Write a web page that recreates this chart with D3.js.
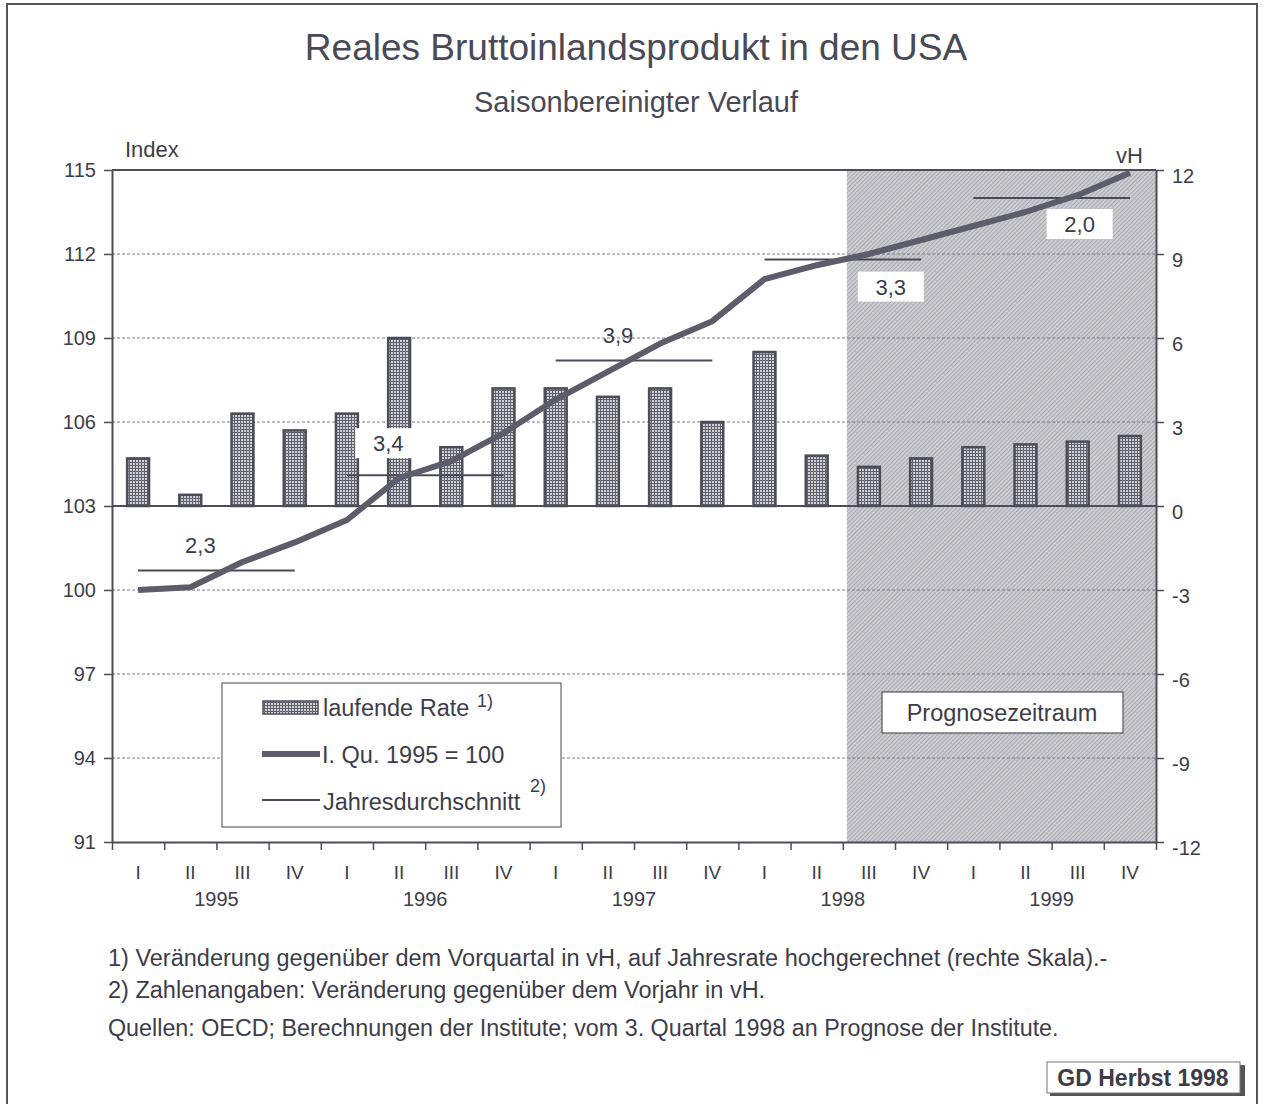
<!DOCTYPE html>
<html>
<head>
<meta charset="utf-8">
<script src="https://cdn.jsdelivr.net/npm/d3@7"></script>
<style>
    body { margin: 0; background: #fff; }
    svg { display: block; font-family: "Liberation Sans", Arial, sans-serif; }
    text { fill: #3d3d4a; }
</style>
</head>
<body>
<svg id="chart" width="1265" height="1104"></svg>
<script>
// Quartale 1995 I bis 1999 IV
const years = [1995, 1996, 1997, 1998, 1999];
const quarterNames = ["I", "II", "III", "IV"];
const quarters = years.flatMap(y => quarterNames.map(q => q + " " + y));

// laufende Rate, vH (rechte Skala)
const rate = [1.7, 0.4, 3.3, 2.7, 3.3, 6.0, 2.1, 4.2,
              4.2, 3.9, 4.2, 3.0, 5.5, 1.8, 1.4, 1.7,
              2.1, 2.2, 2.3, 2.5];

// I. Qu. 1995 = 100 (linke Skala)
const level = [100.0, 100.1, 101.0, 101.7, 102.5, 104.0, 104.6, 105.6,
               106.8, 107.8, 108.8, 109.6, 111.1, 111.6, 112.0, 112.5,
               113.0, 113.5, 114.1, 114.9];

// Jahresdurchschnitt (Niveau) und Veraenderung gegenueber Vorjahr
const annualLevel = [100.7, 104.1, 108.2, 111.8, 114.0];
const annualChange = ["2,3", "3,4", "3,9", "3,3", "2,0"];

const leftTicks = [91, 94, 97, 100, 103, 106, 109, 112, 115];
const rightTicks = [-12, -9, -6, -3, 0, 3, 6, 9, 12];
const forecastStart = 14; // ab 3. Quartal 1998

const footnotes = [
    "1) Veränderung gegenüber dem Vorquartal in vH, auf Jahresrate hochgerechnet (rechte Skala).-",
    "2) Zahlenangaben: Veränderung gegenüber dem Vorjahr in vH."
];
const source = "Quellen: OECD; Berechnungen der Institute; vom 3. Quartal 1998 an Prognose der Institute.";

// label placement relative to year centre / average line: [dx, dy, white box]
const labelLayout = [[-16, -25, false], [-37, -32, true], [-16, -25, false], [48, 27, true], [28, 26, true]];

const ink = "#4d4d58";
const plot = {left: 112, right: 1156, top: 170, bottom: 842};

const svg = d3.select("#chart");
const defs = svg.append("defs");

let mesh = defs.append("pattern")
    .attr("id", "mesh")
    .attr("width", 3).attr("height", 3)
    .attr("patternUnits", "userSpaceOnUse");
mesh.append("rect").attr("width", 3).attr("height", 3).attr("fill", "#cfcfd4");
mesh.append("path").attr("d", "M0,0.5H3M0.5,0V3").attr("stroke", "#62626e").attr("stroke-width", 1);

let hatch = defs.append("pattern")
    .attr("id", "hatch")
    .attr("width", 3).attr("height", 3)
    .attr("patternUnits", "userSpaceOnUse")
    .attr("patternTransform", "rotate(45)");
hatch.append("rect").attr("width", 3).attr("height", 3).attr("fill", "#cdcdd1");
hatch.append("line").attr("x1", 0).attr("y1", 0).attr("x2", 0).attr("y2", 3)
    .attr("stroke", "#8e8e96").attr("stroke-width", 1.1);

// outer frame
svg.append("rect")
    .attr("x", 7).attr("y", 4).attr("width", 1250).attr("height", 1120)
    .attr("fill", "none").attr("stroke", "#555").attr("stroke-width", 2);

// titles
svg.append("text")
    .attr("x", 636).attr("y", 60)
    .attr("text-anchor", "middle")
    .style("font-size", "37px")
    .style("fill", "#4a4a56")
    .text("Reales Bruttoinlandsprodukt in den USA");
svg.append("text")
    .attr("x", 636).attr("y", 112)
    .attr("text-anchor", "middle")
    .style("font-size", "29px")
    .style("fill", "#4a4a56")
    .text("Saisonbereinigter Verlauf");

// scales
let x = d3.scaleBand().domain(quarters).range([plot.left, plot.right]).padding(0);
let xEdge = d3.scaleLinear().domain([0, quarters.length]).range([plot.left, plot.right]);
let yLeft = d3.scaleLinear().domain([91, 115]).range([plot.bottom, plot.top]);
let yRight = d3.scaleLinear().domain([-12, 12]).range([plot.bottom, plot.top]);
let cx = i => x(quarters[i]) + x.bandwidth() / 2;

// forecast area
svg.append("rect")
    .attr("x", xEdge(forecastStart) + 4)
    .attr("y", plot.top)
    .attr("width", xEdge(quarters.length) - xEdge(forecastStart) - 4)
    .attr("height", plot.bottom - plot.top)
    .attr("fill", "url(#hatch)");

// grid lines
svg.append("g").selectAll("line")
    .data(leftTicks.filter(d => d > 91 && d < 115 && d !== 103))
    .enter().append("line")
    .attr("x1", plot.left).attr("x2", plot.right)
    .attr("y1", d => yLeft(d)).attr("y2", d => yLeft(d))
    .attr("stroke", "#7a7a84").attr("stroke-width", 1)
    .attr("stroke-dasharray", "3,2");

// axes
let leftAxis = svg.append("g")
    .attr("transform", "translate(" + plot.left + ",0)")
    .call(d3.axisLeft(yLeft).tickValues(leftTicks).tickSize(8).tickSizeOuter(0).tickPadding(8));
let rightAxis = svg.append("g")
    .attr("transform", "translate(" + plot.right + ",0)")
    .call(d3.axisRight(yRight).tickValues(rightTicks).tickFormat(d => String(d))
        .tickSize(8).tickSizeOuter(0).tickPadding(8));
let bottomAxis = svg.append("g")
    .attr("transform", "translate(0," + plot.bottom + ")")
    .call(d3.axisBottom(xEdge).tickValues(d3.range(quarters.length + 1)).tickFormat("").tickSize(8).tickSizeOuter(0));

[leftAxis, rightAxis, bottomAxis].forEach(g => {
    g.selectAll("path.domain").attr("stroke", ink).attr("stroke-width", 2);
    g.selectAll(".tick line").attr("stroke", ink).attr("stroke-width", 1.5);
    g.selectAll(".tick text")
        .style("font-size", "20px")
        .style("font-family", "'Liberation Sans', Arial, sans-serif")
        .attr("fill", "#3d3d4a");
});
rightAxis.selectAll(".tick text").attr("dy", "0.6em");

svg.append("line")
    .attr("x1", plot.left).attr("x2", plot.right)
    .attr("y1", plot.top).attr("y2", plot.top)
    .attr("stroke", ink).attr("stroke-width", 2);

// quarter and year labels
svg.append("g").selectAll("text")
    .data(quarters)
    .enter().append("text")
    .attr("x", (d, i) => cx(i))
    .attr("y", 879)
    .attr("text-anchor", "middle")
    .style("font-size", "19px")
    .text(d => d.split(" ")[0]);
svg.append("g").selectAll("text")
    .data(years)
    .enter().append("text")
    .attr("x", (d, i) => xEdge(i * 4 + 2))
    .attr("y", 906)
    .attr("text-anchor", "middle")
    .style("font-size", "20px")
    .text(d => d);

svg.append("text").attr("x", 125).attr("y", 157).style("font-size", "22px").text("Index");
svg.append("text").attr("x", 1116).attr("y", 163).style("font-size", "22px").text("vH");

// bars: laufende Rate
let barW = x.bandwidth() * 0.42;
svg.append("g").selectAll("rect")
    .data(rate)
    .enter().append("rect")
    .attr("x", (d, i) => cx(i) - barW / 2)
    .attr("y", d => yRight(d))
    .attr("width", barW)
    .attr("height", d => yRight(0) - yRight(d))
    .attr("fill", "url(#mesh)")
    .attr("stroke", ink)
    .attr("stroke-width", 2.5);

// zero line
svg.append("line")
    .attr("x1", plot.left).attr("x2", plot.right)
    .attr("y1", yRight(0)).attr("y2", yRight(0))
    .attr("stroke", ink).attr("stroke-width", 2);

// annual averages
svg.append("g").selectAll("line")
    .data(annualLevel)
    .enter().append("line")
    .attr("x1", (d, i) => cx(i * 4))
    .attr("x2", (d, i) => cx(i * 4 + 3))
    .attr("y1", d => yLeft(d)).attr("y2", d => yLeft(d))
    .attr("stroke", "#4a4a55").attr("stroke-width", 2);

// index line
svg.append("path")
    .datum(level)
    .attr("d", d3.line().x((d, i) => cx(i)).y(d => yLeft(d)))
    .attr("fill", "none")
    .attr("stroke", "#5c5c6a")
    .attr("stroke-width", 6)
    .attr("stroke-linejoin", "round");

// annual change labels
let labels = svg.append("g").selectAll("g")
    .data(annualChange)
    .enter().append("g")
    .attr("transform", (d, i) => "translate(" + (xEdge(i * 4 + 2) + labelLayout[i][0]) + "," + (yLeft(annualLevel[i]) + labelLayout[i][1]) + ")");
labels.filter((d, i) => labelLayout[i][2])
    .append("rect")
    .attr("x", -33).attr("y", -15).attr("width", 66).attr("height", 30)
    .attr("fill", "#fff");
labels.append("text")
    .attr("text-anchor", "middle")
    .attr("dy", "0.36em")
    .style("font-size", "22px")
    .text(d => d);

// legend
let legend = svg.append("g");
legend.append("rect")
    .attr("x", 222).attr("y", 683).attr("width", 339).attr("height", 144)
    .attr("fill", "#fff").attr("stroke", "#666").attr("stroke-width", 1.2);
legend.append("rect")
    .attr("x", 263).attr("y", 701).attr("width", 55).attr("height", 13)
    .attr("fill", "url(#mesh)").attr("stroke", ink).attr("stroke-width", 1.5);
legend.append("line")
    .attr("x1", 262).attr("x2", 320).attr("y1", 754).attr("y2", 754)
    .attr("stroke", "#5c5c6a").attr("stroke-width", 6);
legend.append("line")
    .attr("x1", 262).attr("x2", 320).attr("y1", 800).attr("y2", 800)
    .attr("stroke", "#4a4a55").attr("stroke-width", 2);
legend.append("text").attr("x", 323).attr("y", 716).style("font-size", "23.5px").text("laufende Rate");
legend.append("text").attr("x", 477).attr("y", 707).style("font-size", "18px").text("1)");
legend.append("text").attr("x", 322).attr("y", 763).style("font-size", "23.5px").text("I. Qu. 1995 = 100");
legend.append("text").attr("x", 323).attr("y", 810).style("font-size", "23.5px").text("Jahresdurchschnitt");
legend.append("text").attr("x", 530).attr("y", 792).style("font-size", "18px").text("2)");

// forecast label
svg.append("rect")
    .attr("x", 882).attr("y", 692).attr("width", 241).attr("height", 41)
    .attr("fill", "#fff").attr("stroke", "#555").attr("stroke-width", 1.2);
svg.append("text")
    .attr("x", 1002).attr("y", 721)
    .attr("text-anchor", "middle")
    .style("font-size", "23.5px")
    .text("Prognosezeitraum");

// footnotes
svg.append("g").selectAll("text")
    .data(footnotes)
    .enter().append("text")
    .attr("x", 108)
    .attr("y", (d, i) => 966 + i * 32)
    .style("font-size", "23.5px")
    .text(d => d);
svg.append("text")
    .attr("x", 108).attr("y", 1036)
    .style("font-size", "23.3px")
    .text(source);

// stamp
svg.append("rect")
    .attr("x", 1050).attr("y", 1065).attr("width", 195).attr("height", 31)
    .attr("fill", "#555");
svg.append("rect")
    .attr("x", 1047).attr("y", 1062).attr("width", 193).attr("height", 31)
    .attr("fill", "#fff").attr("stroke", "#777").attr("stroke-width", 1);
svg.append("text")
    .attr("x", 1143).attr("y", 1086)
    .attr("text-anchor", "middle")
    .style("font-size", "23px")
    .style("font-weight", "bold")
    .text("GD Herbst 1998");
</script>
</body>
</html>
